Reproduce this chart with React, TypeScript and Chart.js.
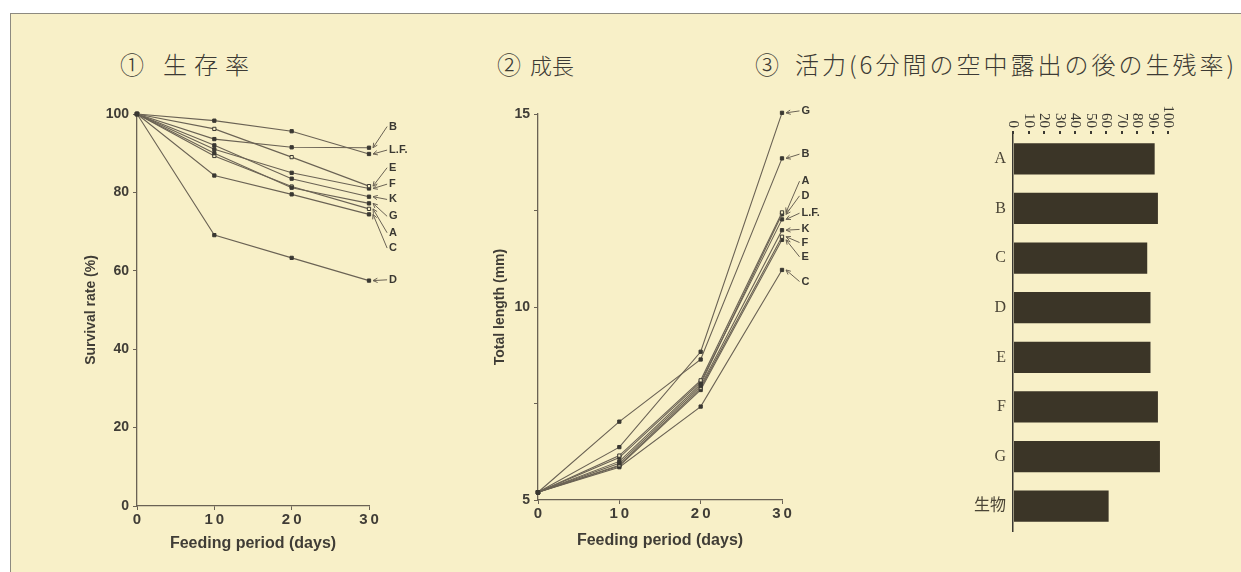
import React, { useEffect, useRef } from "react";
import { Chart, registerables } from "chart.js";

Chart.register(...registerables);

const BG = "#f8f0c8";
const INK = "#3a3832";
const LINE = "#6a6254";
const BAR = "#3b3527";
const SANS = "'Liberation Sans', Arial, sans-serif";
const SERIF = "'Liberation Serif', 'Noto Sans CJK JP', serif";
const CJK = "'Noto Sans CJK JP', sans-serif";

const feedingDays = [0, 10, 20, 30];

// ① 生存率 (Survival rate, %)
const survivalNames = ["L.F.", "B", "E", "F", "K", "G", "A", "C", "D"];
const survivalLF = [100, 98.3, 95.6, 89.8];
const survivalB = [100, 93.6, 91.5, 91.4];
const survivalE = [100, 96.2, 89.0, 81.6];
const survivalF = [100, 91.0, 85.0, 81.0];
const survivalK = [100, 92.0, 83.5, 78.9];
const survivalG = [100, 90.0, 81.2, 77.2];
const survivalA = [100, 89.3, 81.5, 75.8];
const survivalC = [100, 84.3, 79.5, 74.4];
const survivalD = [100, 69.1, 63.3, 57.5];
const survivalLabelY = [90.8, 96.8, 86.3, 82.1, 78.2, 73.9, 69.7, 65.8, 57.7];
const survivalLabelDay = 32.6;

// ② 成長 (Total length, mm)
const growthNames = ["G", "B", "A", "D", "L.F.", "K", "F", "E", "C"];
const growthG = [5.2, 6.37, 8.84, 15.03];
const growthB = [5.2, 7.03, 8.64, 13.85];
const growthA = [5.2, 6.15, 8.1, 12.45];
const growthD = [5.2, 6.0, 8.0, 12.4];
const growthLF = [5.2, 6.1, 8.05, 12.27];
const growthK = [5.2, 5.95, 7.95, 11.99];
const growthF = [5.2, 5.9, 7.9, 11.82];
const growthE = [5.2, 5.88, 7.85, 11.74];
const growthC = [5.2, 5.85, 7.42, 10.96];
const growthLabelY = [15.08, 13.96, 13.26, 12.88, 12.43, 12.01, 11.67, 11.3, 10.66];
const growthLabelDay = 32.4;

// ③ 活力 (survival after 6 min air exposure, %)
const vitalityCategories = ["A", "B", "C", "D", "E", "F", "G", "生物"];
const vitalityValues = [91.4, 93.5, 86.6, 88.7, 88.7, 93.5, 94.8, 61.7];

const markerFilled = [true, true, false, true, true, true, false, true, true];

function spaced(v: number | string) {
  return String(v).split("").join("\u2009");
}

function arrowLabels(id: string, names: string[], labelY: number[], labelDay: number) {
  return {
    id,
    afterDatasetsDraw(chart: any) {
      const { ctx } = chart;
      const xs = chart.scales.x;
      const ys = chart.scales.y;
      ctx.save();
      ctx.font = `bold 11px ${SANS}`;
      ctx.fillStyle = INK;
      ctx.strokeStyle = LINE;
      ctx.lineWidth = 1;
      ctx.textAlign = "left";
      ctx.textBaseline = "middle";
      chart.data.datasets.forEach((ds: any, i: number) => {
        const last = ds.data[ds.data.length - 1];
        const px = xs.getPixelForValue(last.x) + 4;
        const py = ys.getPixelForValue(last.y);
        const lx = xs.getPixelForValue(labelDay);
        const ly = ys.getPixelForValue(labelY[i]);
        ctx.fillText(names[i], lx, ly);
        const sx = lx - 2;
        const sy = ly;
        ctx.beginPath();
        ctx.moveTo(sx, sy);
        ctx.lineTo(px, py);
        const a = Math.atan2(py - sy, px - sx);
        const h = 5;
        ctx.moveTo(px, py);
        ctx.lineTo(px - h * Math.cos(a - 0.45), py - h * Math.sin(a - 0.45));
        ctx.moveTo(px, py);
        ctx.lineTo(px - h * Math.cos(a + 0.45), py - h * Math.sin(a + 0.45));
        ctx.stroke();
      });
      ctx.restore();
    },
  };
}

const rotatedTopTicks = {
  id: "rotatedTopTicks",
  afterDraw(chart: any) {
    const { ctx, chartArea } = chart;
    const xs = chart.scales.x;
    ctx.save();
    ctx.font = `15px ${SERIF}`;
    ctx.fillStyle = INK;
    ctx.textAlign = "right";
    ctx.textBaseline = "middle";
    xs.ticks.forEach((t: any) => {
      const x = xs.getPixelForValue(t.value);
      ctx.save();
      ctx.translate(x, chartArea.top - 6);
      ctx.rotate(Math.PI / 2);
      ctx.fillText(String(t.value), 0, 0);
      ctx.restore();
    });
    ctx.restore();
  },
};

function lineDatasets(series: number[][], names: string[]) {
  return series.map((arr, i) => ({
    label: names[i],
    data: feedingDays.map((d, j) => ({ x: d, y: arr[j] })),
    borderColor: LINE,
    borderWidth: 1.1,
    pointStyle: "rect",
    pointRadius: 2.3,
    pointBackgroundColor: markerFilled[i] ? INK : BG,
    pointBorderColor: INK,
    pointBorderWidth: 1,
    clip: false,
    tension: 0,
  }));
}

function axisBase() {
  return {
    grid: { display: true, drawOnChartArea: false, drawTicks: true, tickLength: 4, color: LINE, lineWidth: 1 },
    border: { display: true, color: LINE, width: 1.3 },
  };
}

export default function App() {
  const r1 = useRef<HTMLCanvasElement>(null);
  const r2 = useRef<HTMLCanvasElement>(null);
  const r3 = useRef<HTMLCanvasElement>(null);

  useEffect(() => {
    const xTickFont = { family: SANS, size: 15, weight: "bold" as const };
    const yTickFont = { family: SANS, size: 14, weight: "bold" as const };
    const xTitleFont = { family: SANS, size: 16, weight: "bold" as const };
    const yTitleFont = { family: SANS, size: 14, weight: "bold" as const };
    const AXIS_TEXT = "#403d36";

    const c1 = new Chart(r1.current!, {
      type: "line",
      data: {
        datasets: lineDatasets(
          [survivalLF, survivalB, survivalE, survivalF, survivalK, survivalG, survivalA, survivalC, survivalD],
          survivalNames
        ) as any,
      },
      options: {
        responsive: false,
        animation: false,
        layout: { padding: { left: 0, top: 14, right: 81, bottom: 4 } },
        plugins: { legend: { display: false }, tooltip: { enabled: false } },
        scales: {
          x: {
            type: "linear",
            min: 0,
            max: 30,
            afterFit: (s: any) => { s.height = 50; },
            ticks: { stepSize: 10, color: AXIS_TEXT, font: xTickFont, padding: 1, callback: (v: any) => spaced(v) },
            title: { display: true, text: "Feeding period (days)", color: AXIS_TEXT, font: xTitleFont, padding: { top: 0, bottom: 3 } },
            ...axisBase(),
          },
          y: {
            type: "linear",
            min: 0,
            max: 100,
            afterFit: (s: any) => { s.width = 67; },
            ticks: { stepSize: 20, color: AXIS_TEXT, font: yTickFont, padding: 4 },
            title: { display: true, text: "Survival rate (%)", color: AXIS_TEXT, font: yTitleFont, padding: { top: 13, bottom: 0 } },
            ...axisBase(),
          },
        },
      } as any,
      plugins: [arrowLabels("lab1", survivalNames, survivalLabelY, survivalLabelDay)],
    });

    const c2 = new Chart(r2.current!, {
      type: "line",
      data: {
        datasets: lineDatasets(
          [growthG, growthB, growthA, growthD, growthLF, growthK, growthF, growthE, growthC],
          growthNames
        ) as any,
      },
      options: {
        responsive: false,
        animation: false,
        layout: { padding: { left: 0, top: 14, right: 58, bottom: 8 } },
        plugins: { legend: { display: false }, tooltip: { enabled: false } },
        scales: {
          x: {
            type: "linear",
            min: 0,
            max: 30,
            afterFit: (s: any) => { s.height = 52; },
            ticks: { stepSize: 10, color: AXIS_TEXT, font: xTickFont, padding: 1, callback: (v: any) => spaced(v) },
            title: { display: true, text: "Feeding period (days)", color: AXIS_TEXT, font: xTitleFont, padding: { top: 0, bottom: 2 } },
            ...axisBase(),
          },
          y: {
            type: "linear",
            min: 5,
            max: 15,
            afterFit: (s: any) => { s.width = 68; },
            ticks: {
              stepSize: 2.5,
              color: AXIS_TEXT,
              font: yTickFont,
              padding: 4,
              callback: (v: any) => (Number(v) % 5 === 0 ? String(v) : ""),
            },
            title: { display: true, text: "Total length (mm)", color: AXIS_TEXT, font: yTitleFont, padding: { top: 22, bottom: 0 } },
            ...axisBase(),
          },
        },
      } as any,
      plugins: [arrowLabels("lab2", growthNames, growthLabelY, growthLabelDay)],
    });

    const c3 = new Chart(r3.current!, {
      type: "bar",
      data: {
        labels: vitalityCategories,
        datasets: [
          {
            data: vitalityValues,
            backgroundColor: BAR,
            borderWidth: 0,
            categoryPercentage: 1,
            barPercentage: 0.63,
          },
        ],
      },
      options: {
        indexAxis: "y",
        responsive: false,
        animation: false,
        layout: { padding: { left: 0, top: 0, right: 62, bottom: 24 } },
        plugins: { legend: { display: false }, tooltip: { enabled: false } },
        scales: {
          x: {
            type: "linear",
            position: "top",
            min: 0,
            max: 100,
            afterFit: (s: any) => { s.height = 39; },
            ticks: { display: false, stepSize: 10 },
            grid: { display: true, drawOnChartArea: false, drawTicks: true, tickLength: 3, color: INK, lineWidth: 2 },
            border: { display: false },
          },
          y: {
            afterFit: (s: any) => { s.width = 73; },
            ticks: { color: "#4a4436", font: { family: SERIF, size: 16 }, padding: 7 },
            grid: { display: true, drawOnChartArea: false, drawTicks: false, color: INK },
            border: { display: true, color: INK, width: 1.5 },
          },
        },
      } as any,
      plugins: [rotatedTopTicks],
    });

    return () => {
      c1.destroy();
      c2.destroy();
      c3.destroy();
    };
  }, []);

  const titleStyle: React.CSSProperties = {
    position: "absolute",
    top: 50,
    fontFamily: CJK,
    fontSize: 24,
    fontWeight: 300,
    lineHeight: "28px",
    color: "#3c3a34",
    whiteSpace: "nowrap",
  };

  return (
    <div
      style={{
        position: "absolute",
        left: 0,
        top: 0,
        width: 1241,
        height: 572,
        background: "#ffffff",
        overflow: "hidden",
      }}
    >
      <div
        style={{
          position: "absolute",
          left: 10,
          top: 13,
          width: 1240,
          height: 570,
          background: BG,
          borderTop: "1px solid #8d8a80",
          borderLeft: "1px solid #8d8a80",
        }}
      />
      <span style={{ ...titleStyle, left: 120 }}>①</span>
      <span style={{ ...titleStyle, left: 163, letterSpacing: 7 }}>生存率</span>
      <span style={{ ...titleStyle, left: 497 }}>②</span>
      <span style={{ ...titleStyle, left: 530, fontSize: 22 }}>成長</span>
      <span style={{ ...titleStyle, left: 755 }}>③</span>
      <span style={{ ...titleStyle, left: 795, letterSpacing: 3 }}>活力(6分間の空中露出の後の生残率)</span>
      <canvas ref={r1} width={380} height={460} style={{ position: "absolute", left: 70, top: 100 }} />
      <canvas ref={r2} width={370} height={460} style={{ position: "absolute", left: 470, top: 100 }} />
      <canvas ref={r3} width={290} height={460} style={{ position: "absolute", left: 940, top: 95 }} />
    </div>
  );
}
